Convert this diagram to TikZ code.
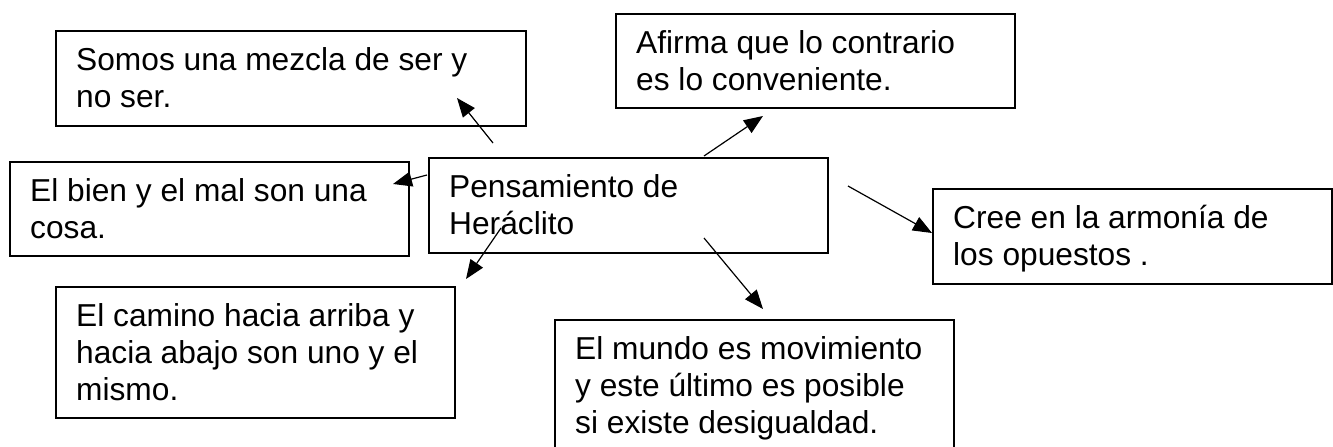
\documentclass[tikz,border=0pt]{standalone}
\usepackage{fontspec}
\setmainfont{Liberation Sans}
\usetikzlibrary{arrows.meta}
\begin{document}
\begin{tikzpicture}[x=1pt,y=-1pt,
	cuadro/.style={draw, line width=1.9pt, anchor=north west, inner sep=0pt},
	texto/.style={anchor=north west, inner sep=0pt, align=left, font=\fontsize{31.7}{37}\selectfont},
	flecha/.style={line width=1.2pt, -{Triangle[length=19pt,width=15pt]}}]
	\useasboundingbox (0,0) rectangle (1333,447);
	\node[cuadro, minimum width=470, minimum height=95] (ser) at (55,30) {};
	\node[cuadro, minimum width=399, minimum height=94] (contrario) at (615,13) {};
	\node[cuadro, minimum width=399, minimum height=94] (bien) at (9,161) {};
	\node[cuadro, minimum width=399, minimum height=95] (heraclito) at (428,157) {};
	\node[cuadro, minimum width=399, minimum height=95] (armonia) at (932,188) {};
	\node[cuadro, minimum width=399, minimum height=131] (camino) at (55,286) {};
	\node[cuadro, minimum width=399, minimum height=140] (mundo) at (554,319) {};
	\node[texto] at ([shift={(21,17)}]ser.north west) {Somos una mezcla de ser y\\no ser.};
	\node[texto] at ([shift={(21,17)}]contrario.north west) {Afirma que lo contrario\\es lo conveniente.};
	\node[texto] at ([shift={(21,17)}]bien.north west) {El bien y el mal son una\\cosa.};
	\node[texto] at ([shift={(21,17)}]heraclito.north west) {Pensamiento de\\Heráclito};
	\node[texto] at ([shift={(21,17)}]armonia.north west) {Cree en la armonía de\\los opuestos .};
	\node[texto] at ([shift={(21,17)}]camino.north west) {El camino hacia arriba y\\hacia abajo son uno y el\\mismo.};
	\node[texto] at ([shift={(21,17)}]mundo.north west) {El mundo es movimiento\\y este último es posible\\si existe desigualdad.};
	\coordinate (o1) at (493,143); \coordinate (d1) at (457,98);
	\coordinate (o2) at (704,156); \coordinate (d2) at (763,116);
	\coordinate (o3) at (427,175); \coordinate (d3) at (393,184);
	\coordinate (o4) at (848,186); \coordinate (d4) at (932,233);
	\coordinate (o5) at (501,228); \coordinate (d5) at (466,279);
	\coordinate (o6) at (704,238); \coordinate (d6) at (763,309);
	\foreach \i in {1,2,...,6} {
		\draw[flecha] (o\i) -- (d\i);
	}
\end{tikzpicture}
\end{document}
